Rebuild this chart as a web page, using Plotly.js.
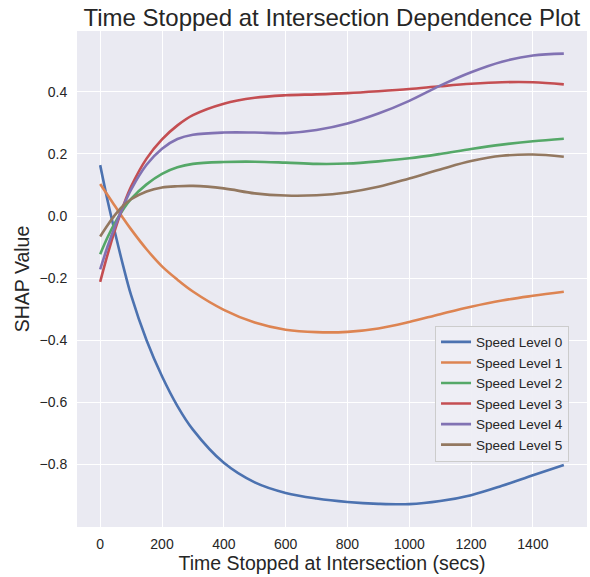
<!DOCTYPE html>
<html>
<head>
<meta charset="utf-8">
<script src="https://cdn.plot.ly/plotly-3.0.1.min.js"></script>
<style>
html,body{margin:0;padding:0;background:#fff;}
#chart{width:590px;height:577px;}
</style>
</head>
<body>
<div id="chart"></div>
<script>
// Time stopped at intersection (secs)
const timeSecs = [0, 25, 50, 75, 100, 150, 200, 250, 300, 400, 500, 600, 700, 800, 900, 1000, 1100, 1200, 1300, 1400, 1500];

const seriesNames = ["Speed Level 0", "Speed Level 1", "Speed Level 2", "Speed Level 3", "Speed Level 4", "Speed Level 5"];

const speedLevel0 = [0.164, 0.045, -0.062, -0.163, -0.255, -0.400, -0.516, -0.612, -0.688, -0.795, -0.858, -0.892, -0.910, -0.921, -0.927, -0.928, -0.918, -0.899, -0.869, -0.835, -0.802];
const speedLevel1 = [0.103, 0.066, 0.029, -0.008, -0.043, -0.107, -0.162, -0.205, -0.243, -0.302, -0.343, -0.366, -0.374, -0.373, -0.362, -0.341, -0.316, -0.292, -0.272, -0.257, -0.244];
const speedLevel2 = [-0.123, -0.066, -0.018, 0.022, 0.055, 0.102, 0.136, 0.157, 0.168, 0.174, 0.175, 0.172, 0.168, 0.169, 0.176, 0.186, 0.200, 0.216, 0.230, 0.241, 0.249];
const speedLevel3 = [-0.212, -0.120, -0.038, 0.034, 0.095, 0.185, 0.247, 0.292, 0.325, 0.362, 0.381, 0.389, 0.392, 0.396, 0.402, 0.409, 0.418, 0.426, 0.431, 0.431, 0.424];
const speedLevel4 = [-0.172, -0.095, -0.028, 0.032, 0.085, 0.165, 0.217, 0.248, 0.262, 0.269, 0.269, 0.267, 0.277, 0.298, 0.330, 0.371, 0.420, 0.463, 0.497, 0.517, 0.523];
const speedLevel5 = [-0.066, -0.028, 0.006, 0.034, 0.054, 0.079, 0.092, 0.096, 0.097, 0.089, 0.073, 0.066, 0.067, 0.076, 0.094, 0.121, 0.150, 0.177, 0.194, 0.198, 0.191];

const xTickVals = [0, 200, 400, 600, 800, 1000, 1200, 1400];
const yTickVals = [-0.8, -0.6, -0.4, -0.2, 0.0, 0.2, 0.4];

const colors = ["#4C72B0", "#DD8452", "#55A868", "#C44E52", "#8172B3", "#937860"];
const allSeries = [speedLevel0, speedLevel1, speedLevel2, speedLevel3, speedLevel4, speedLevel5];

const traces = allSeries.map((ys, i) => ({
  type: "scatter",
  mode: "lines",
  x: timeSecs,
  y: ys,
  name: seriesNames[i],
  line: {color: colors[i], width: 2.6, shape: "spline", smoothing: 1}
}));

const font = "Liberation Sans, Arial, Helvetica, sans-serif";
const textColor = "#262626";

const layout = {
  width: 590,
  height: 577,
  margin: {l: 77, r: 3, t: 31, b: 50},
  paper_bgcolor: "#ffffff",
  plot_bgcolor: "#EAEAF2",
  font: {family: font, color: textColor, size: 14},
  title: {
    text: "Time Stopped at Intersection Dependence Plot",
    font: {family: font, size: 24, color: textColor},
    x: 0.5625, xanchor: "center", y: 0.97, yanchor: "middle"
  },
  xaxis: {
    range: [-75, 1575],
    tickvals: xTickVals,
    ticktext: xTickVals.map(String),
    showgrid: true, gridcolor: "#ffffff", gridwidth: 1,
    zeroline: false, showline: false,
    ticks: "outside", ticklen: 4, tickcolor: "rgba(0,0,0,0)",
    tickfont: {family: font, size: 14, color: textColor},
    title: {text: "Time Stopped at Intersection (secs)", font: {family: font, size: 19.5, color: textColor}, standoff: 3}
  },
  yaxis: {
    range: [-1.0016, 0.596],
    tickvals: yTickVals,
    tickformat: ".1f",
    showgrid: true, gridcolor: "#ffffff", gridwidth: 1,
    zeroline: false, showline: false,
    ticks: "outside", ticklen: 6, tickcolor: "rgba(0,0,0,0)",
    tickfont: {family: font, size: 14, color: textColor},
    title: {text: "SHAP Value", font: {family: font, size: 19.5, color: textColor}, standoff: 4}
  },
  showlegend: true,
  legend: {
    x: 0.702, y: 0.406, xanchor: "left", yanchor: "top",
    bgcolor: "rgba(238,238,244,0.95)",
    bordercolor: "#cccccc", borderwidth: 1,
    font: {family: font, size: 13.5, color: textColor},
    itemwidth: 30,
    tracegroupgap: 0
  }
};

Plotly.newPlot("chart", traces, layout, {displayModeBar: false, staticPlot: true});
</script>
</body>
</html>
